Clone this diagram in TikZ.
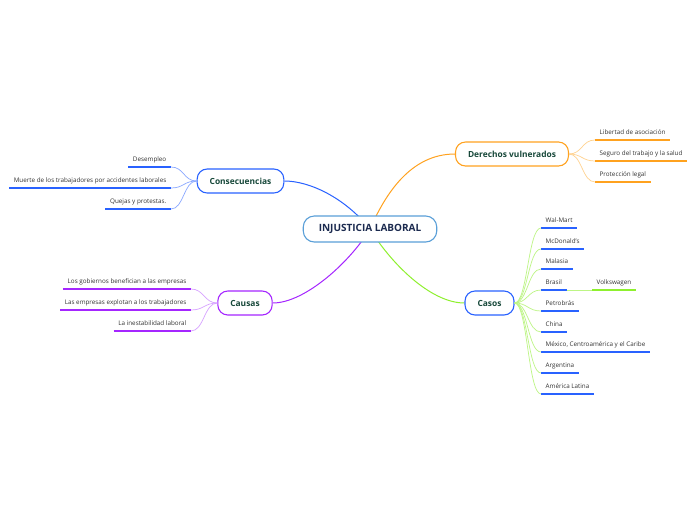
\documentclass[tikz,border=0pt]{standalone}
\usepackage{fontspec}
\setmainfont{Open Sans}
\usetikzlibrary{positioning, backgrounds}
\usepackage{xcolor}

\definecolor{rootline}{HTML}{5A9FD8}
\definecolor{rootink}{HTML}{1B2A4F}
\definecolor{topicink}{HTML}{17483A}
\definecolor{leafink}{HTML}{333333}
\definecolor{conblue}{HTML}{2962FF}
\definecolor{conlight}{HTML}{8AA8FF}
\definecolor{derorange}{HTML}{FFA21F}
\definecolor{derlight}{HTML}{FFD28F}
\definecolor{caupurple}{HTML}{A526FF}
\definecolor{caulight}{HTML}{D7A2FF}
\definecolor{casgreen}{HTML}{8EF02E}
\definecolor{caslight}{HTML}{BDF585}

\begin{document}
\begin{tikzpicture}[
  x=1pt, y=-1pt,
  root/.style={rectangle, draw=rootline, line width=1.1pt, fill=white,
               rounded corners=11pt, minimum height=26pt, inner xsep=15.5pt,
               font=\fontsize{10}{11}\selectfont\bfseries, text=rootink},
  topic/.style={rectangle, draw=#1, line width=1.1pt, fill=white,
                rounded corners=10pt, minimum height=24pt, inner xsep=12.5pt,
                font=\fontsize{8.4}{9}\selectfont\bfseries, text=topicink},
  leaf/.style={font=\fontsize{6.3}{7}\selectfont, text=leafink,
               inner xsep=4.5pt, inner ysep=3.5pt,
               text height=4.5pt, text depth=1.5pt},
  branch/.style={line width=1pt, draw=#1},
  twig/.style={line width=0.7pt, draw=#1},
  under/.style={line width=1.6pt, draw=#1}
]
\useasboundingbox (0,0) rectangle (696,520);

% Centre and main topics
\node[root] (cen) at (370,229) {INJUSTICIA LABORAL};
\node[topic=conblue]   (con) at (240.5,181) {Consecuencias};
\node[topic=derorange] (der) at (512,154)   {Derechos vulnerados};
\node[topic=caupurple] (cau) at (245,303)   {Causas};
\node[topic=conblue]   (cas) at (489.5,303) {Casos};

% Main branches, behind the boxes
\begin{scope}[on background layer]
\fill[white] (0,0) rectangle (696,520);
\draw[branch=conblue]   (cen.center) .. controls (345,198) and (310,181) .. (con.east);
\draw[branch=derorange] (cen.center) .. controls (385,195) and (410,154) .. (der.west);
\draw[branch=caupurple] (cen.center) .. controls (350,262) and (305,303) .. (cau.east);
\draw[branch=casgreen]  (cen.center) .. controls (390,262) and (430,303) .. (cas.west);
\end{scope}

% Consecuencias
\node[leaf, anchor=south east] (con1) at (171,167) {Desempleo};
\node[leaf, anchor=south east] (con2) at (171,188) {Muerte de los trabajadores por accidentes laborales};
\node[leaf, anchor=south east] (con3) at (171,209) {Quejas y protestas.};

% Derechos vulnerados
\node[leaf, anchor=south west] (der1) at (595,140) {Libertad de asociación};
\node[leaf, anchor=south west] (der2) at (595,161) {Seguro del trabajo y la salud};
\node[leaf, anchor=south west] (der3) at (595,182) {Protección legal};

% Causas
\node[leaf, anchor=south east] (cau1) at (191,289) {Los gobiernos benefician a las empresas};
\node[leaf, anchor=south east] (cau2) at (191,310) {Las empresas explotan a los trabajadores};
\node[leaf, anchor=south east] (cau3) at (191,331) {La inestabilidad laboral};

% Casos
\node[leaf, anchor=south west] (cas1) at (541,228) {Wal-Mart};
\node[leaf, anchor=south west] (cas2) at (541,249) {McDonald's};
\node[leaf, anchor=south west] (cas3) at (541,269) {Malasia};
\node[leaf, anchor=south west] (cas4) at (541,290) {Brasil};
\node[leaf, anchor=south west] (cas5) at (541,311) {Petrobrás};
\node[leaf, anchor=south west] (cas6) at (541,332) {China};
\node[leaf, anchor=south west] (cas7) at (541,352) {México, Centroamérica y el Caribe};
\node[leaf, anchor=south west] (cas8) at (541,373) {Argentina};
\node[leaf, anchor=south west] (cas9) at (541,394) {América Latina};
\node[leaf, anchor=south west] (vw)   at (592,290) {Volkswagen};

% Underlines
\foreach \n in {con1,con2,con3}
  \draw[under=conblue] (\n.south west) -- (\n.south east);
\foreach \n in {der1,der2,der3}
  \draw[under=derorange] (\n.south west) -- (\n.south east);
\foreach \n in {cau1,cau2,cau3}
  \draw[under=caupurple] (\n.south west) -- (\n.south east);
\foreach \n in {cas1,cas2,cas3,cas4,cas5,cas6,cas7,cas8,cas9}
  \draw[under=conblue] (\n.south west) -- (\n.south east);
\draw[under=casgreen] (vw.south west) -- (vw.south east);

% Twigs to the leaves
\foreach \n in {con1,con2,con3}
  \draw[twig=conlight] (con.west) .. controls +(-13,0) and +(13,0) .. (\n.south east);
\foreach \n in {der1,der2,der3}
  \draw[twig=derlight] (der.east) .. controls +(13,0) and +(-13,0) .. (\n.south west);
\foreach \n in {cau1,cau2,cau3}
  \draw[twig=caulight] (cau.west) .. controls +(-13,0) and +(13,0) .. (\n.south east);
\foreach \n in {cas1,cas2,cas3,cas4,cas5,cas6,cas7,cas8,cas9}
  \draw[twig=caslight] (cas.east) .. controls +(13,0) and +(-13,0) .. (\n.south west);
\draw[twig=caslight] (cas4.south east) -- (vw.south west);

\end{tikzpicture}
\end{document}
